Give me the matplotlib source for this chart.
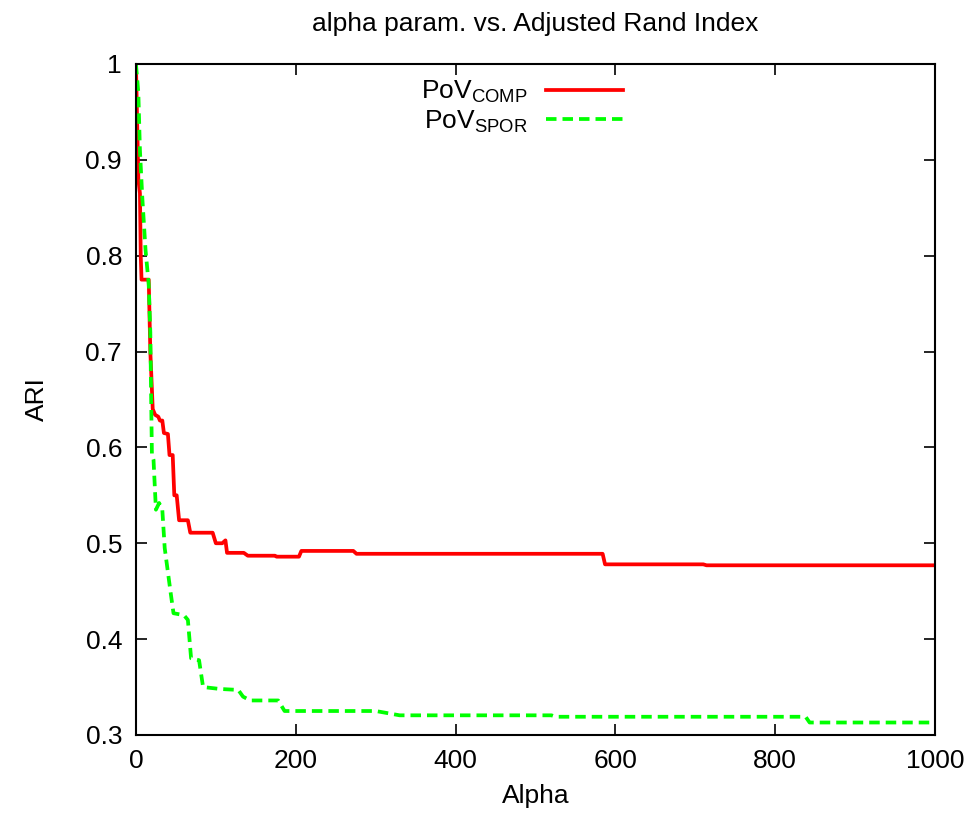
import matplotlib
matplotlib.use("Agg")
import matplotlib.pyplot as plt

plt.rcParams['font.family'] = ['Liberation Sans', 'DejaVu Sans']
plt.rcParams['mathtext.fontset'] = 'custom'
plt.rcParams['mathtext.rm'] = 'Liberation Sans'
plt.rcParams['mathtext.it'] = 'Liberation Sans'

comp_alpha = [0, 3, 5, 6, 7, 16, 18, 21, 24, 28, 30, 33, 35, 40, 42, 46, 48, 51, 54, 65, 68, 96,
              100, 108, 112, 114, 135, 140, 174, 176, 204, 207, 272, 276, 584, 587, 710, 714, 1000]
comp_ari = [1.0, 0.88, 0.865, 0.80, 0.775, 0.775, 0.70, 0.64, 0.634, 0.632, 0.628, 0.628, 0.615, 0.614,
            0.592, 0.592, 0.55, 0.55, 0.524, 0.524, 0.511, 0.511, 0.500, 0.500, 0.503, 0.490, 0.490,
            0.487, 0.487, 0.486, 0.486, 0.492, 0.492, 0.489, 0.489, 0.478, 0.478, 0.477, 0.477]

spor_alpha = [0, 3, 5, 8, 12, 16, 18, 19, 20, 22, 25, 29, 33, 36, 43, 47, 60, 65, 69, 79, 84, 105,
              128, 134, 143, 178, 186, 300, 320, 330, 520, 525, 838, 843, 1000]
spor_ari = [1.0, 0.97, 0.91, 0.86, 0.806, 0.77, 0.72, 0.653, 0.592, 0.587, 0.535, 0.542, 0.535, 0.495,
            0.451, 0.427, 0.425, 0.420, 0.380, 0.378, 0.350, 0.348, 0.347, 0.340, 0.336, 0.336, 0.325,
            0.325, 0.322, 0.3205, 0.3205, 0.319, 0.319, 0.313, 0.313]

x_ticks = [0, 200, 400, 600, 800, 1000]
y_ticks = [0.3, 0.4, 0.5, 0.6, 0.7, 0.8, 0.9, 1.0]
y_tick_labels = ['0.3', '0.4', '0.5', '0.6', '0.7', '0.8', '0.9', '1']

FS = 19

fig = plt.figure(figsize=(9.71, 8.19), dpi=100)
ax = fig.add_axes([0.140, 0.1026, 0.823, 0.8193])

ax.plot(comp_alpha, comp_ari, color='#ff0000', lw=2.7, label=r'PoV$_{\mathrm{COMP}}$')
ax.plot(spor_alpha, spor_ari, color='#00ff00', lw=2.7, dashes=(2.8, 1.6), label=r'PoV$_{\mathrm{SPOR}}$')

ax.set_xlim(0, 1000)
ax.set_ylim(0.3, 1.0)
ax.set_xticks(x_ticks)
ax.set_yticks(y_ticks)
ax.set_yticklabels(y_tick_labels)
ax.tick_params(direction='in', length=8, width=1.2, top=True, right=True, labelsize=FS, pad=10)
for s in ax.spines.values():
    s.set_linewidth(1.5)

ax.set_title('alpha param. vs. Adjusted Rand Index', fontsize=FS, pad=24)
ax.set_xlabel('Alpha', fontsize=FS, labelpad=8)
ax.set_ylabel('ARI', fontsize=FS, labelpad=26)

leg = ax.legend(loc='upper left', bbox_to_anchor=(0.327, 1.013), frameon=False, markerfirst=False,
                fontsize=FS, handlelength=2.9, labelspacing=0.12, handletextpad=0.7)
for t in leg.get_texts():
    t.set_ha('right')

fig.savefig('out.png', dpi=100)
